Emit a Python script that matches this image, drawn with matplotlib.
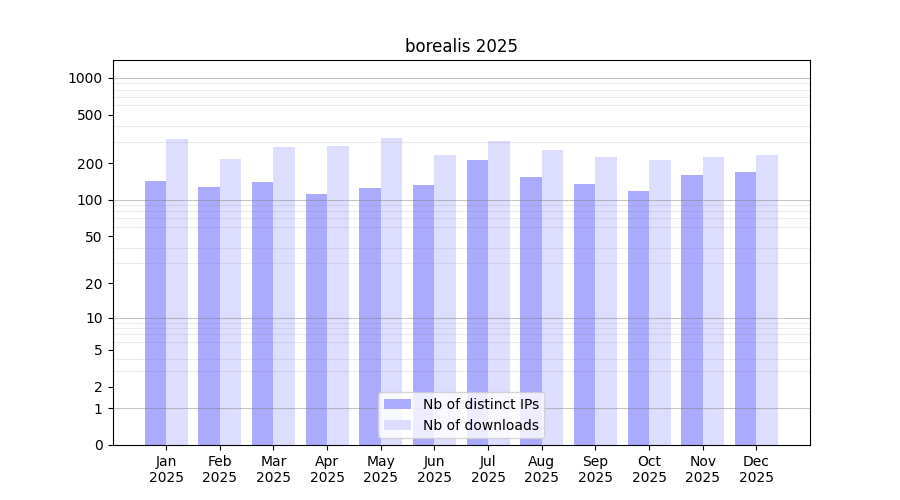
import numpy as np
import matplotlib
matplotlib.use("Agg")
import matplotlib.pyplot as plt
from matplotlib.ticker import FixedLocator

months = ["Jan", "Feb", "Mar", "Apr", "May", "Jun",
          "Jul", "Aug", "Sep", "Oct", "Nov", "Dec"]
year = 2025
distinct_ips = [143, 128, 140, 112, 125, 133, 213, 154, 135, 118, 160, 170]
downloads = [317, 217, 272, 277, 323, 234, 305, 257, 225, 213, 225, 234]

y_ticks = [0, 1, 2, 5, 10, 20, 50, 100, 200, 500, 1000]


def fwd(v):
    return np.log10(1 + np.maximum(v, -0.999999))


def inv(v):
    return 10 ** np.asarray(v) - 1


x = np.arange(len(months))
fig, ax = plt.subplots(figsize=(9, 5), dpi=100)
ax.bar(x - 0.2, distinct_ips, width=0.4, color="#aaaaff", label="Nb of distinct IPs", zorder=1)
ax.bar(x + 0.2, downloads, width=0.4, color="#ddddff", label="Nb of downloads", zorder=1)

ax.set_yscale("function", functions=(fwd, inv))
ax.set_ylim(0, 1400)
ax.set_xlim(-1, 12)

ax.yaxis.set_major_locator(FixedLocator(y_ticks))
ax.set_yticklabels([str(t) for t in y_ticks])
minor = [m * 10 ** k for k in range(4) for m in range(2, 10)]
ax.yaxis.set_minor_locator(FixedLocator(minor))
ax.tick_params(axis="y", which="minor", length=0)
ax.grid(axis="y", which="minor", color="gray", alpha=0.15, linewidth=0.8, zorder=2)
for d in [1, 10, 100, 1000]:
    ax.axhline(d, color="gray", alpha=0.45, linewidth=0.8, zorder=2)

ax.set_xticks(x)
ax.set_xticklabels([f"{m}\n{year}" for m in months])
ax.set_title(f"borealis {year}")
ax.legend(loc="lower center")

fig.savefig("out.png")
